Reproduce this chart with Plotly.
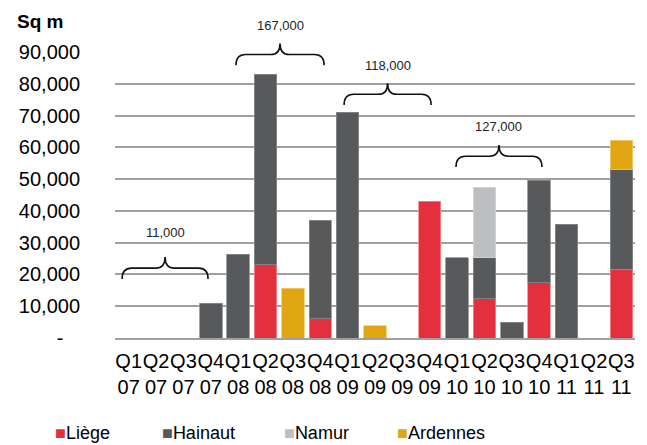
import plotly.graph_objects as go

# Quarterly take-up by province (sq m), stacked
quarters = ["Q1<br>07", "Q2<br>07", "Q3<br>07", "Q4<br>07",
            "Q1<br>08", "Q2<br>08", "Q3<br>08", "Q4<br>08",
            "Q1<br>09", "Q2<br>09", "Q3<br>09", "Q4<br>09",
            "Q1<br>10", "Q2<br>10", "Q3<br>10", "Q4<br>10",
            "Q1<br>11", "Q2<br>11", "Q3<br>11"]

liege =    [None, None, None, None, None, 23000, None, 6000, None, None, None, 43000,
            None, 12300, None, 17400, None, None, 21700]
hainaut =  [None, None, None, 11000, 26300, 60000, None, 31000, 71000, None, None, None,
            25200, 12900, 5000, 32200, 35800, None, 31400]
namur =    [None, None, None, None, None, None, None, None, None, None, None, None,
            None, 22300, None, None, None, None, None]
ardennes = [None, None, None, None, None, None, 15600, None, None, 3800, None, None,
            None, None, None, None, None, None, 9100]

series_names = ["Liège", "Hainaut", "Namur", "Ardennes"]
series_colors = ["#E4303E", "#58595B", "#BDBEC0", "#E1A712"]
series_edges = ["#F08A92", "#8A8B8D", "#D6D7D9", "#F0CC70"]

# Yearly totals shown above curly braces (category span, brace foot level, label level)
brace_text = ["11,000", "167,000", "118,000", "127,000"]
brace_start = [-0.24, 3.92, 7.87, 11.96]
brace_end = [2.90, 7.14, 11.05, 15.10]
brace_foot = [18600, 85800, 73300, 53800]
brace_label_y = [33300, 98400, 85800, 66400]

y_max = 90000
y_ticks = [0, 10000, 20000, 30000, 40000, 50000, 60000, 70000, 80000, 90000]
y_ticktext = ["-\u00a0\u00a0\u00a0"] + [f"{v:,}" for v in y_ticks[1:]]

FONT = "Liberation Sans, Arial, sans-serif"
n_cat = len(quarters)

fig = go.Figure()
for name, vals, col, edge in zip(series_names, [liege, hainaut, namur, ardennes],
                                 series_colors, series_edges):
    fig.add_trace(go.Bar(
        x=list(range(n_cat)), y=vals, name=name, showlegend=False,
        marker=dict(color=col, line=dict(color=edge, width=0.8)),
    ))


def fx(idx):
    return (idx + 0.5) / n_cat


def fy(v):
    return v / y_max


shapes = []
annotations = []
r = 0.34  # curl radius, in category units
for txt, a, b, foot, ly in zip(brace_text, brace_start, brace_end, brace_foot, brace_label_y):
    mid = foot + 3400
    tip = foot + 6900
    c = (a + b) / 2
    path = (f"M {fx(a)},{fy(foot)} "
            f"Q {fx(a)},{fy(mid)} {fx(a + r)},{fy(mid)} "
            f"L {fx(c - r)},{fy(mid)} "
            f"Q {fx(c)},{fy(mid)} {fx(c)},{fy(tip)} "
            f"Q {fx(c)},{fy(mid)} {fx(c + r)},{fy(mid)} "
            f"L {fx(b - r)},{fy(mid)} "
            f"Q {fx(b)},{fy(mid)} {fx(b)},{fy(foot)}")
    shapes.append(dict(type="path", xref="paper", yref="paper", path=path,
                       line=dict(color="#111111", width=1.6)))
    annotations.append(dict(x=c, y=fy(ly), xref="x", yref="paper", text=txt, showarrow=False,
                            font=dict(family=FONT, size=13, color="#222222"),
                            xanchor="center", yanchor="middle"))

annotations.append(dict(x=-0.192, y=1.105, xref="paper", yref="paper", text="<b>Sq m</b>",
                        showarrow=False, xanchor="left", yanchor="middle",
                        font=dict(family=FONT, size=19, color="#000000")))

# Legend row under the axis: coloured square followed by the province name
legend_x = [-0.119, 0.0865, 0.321, 0.538]
for name, col, lx in zip(series_names, series_colors, legend_x):
    annotations.append(dict(
        x=lx, y=-0.332, xref="paper", yref="paper", showarrow=False,
        xanchor="left", yanchor="middle",
        text=f"<span style='color:{col}'>\u25A0</span>{name}",
        font=dict(family=FONT, size=18, color="#000000"),
    ))

fig.update_layout(
    width=647, height=445,
    margin=dict(l=115, r=12, t=52, b=107),
    paper_bgcolor="white", plot_bgcolor="white",
    barmode="stack", bargap=0.18,
    font=dict(family=FONT, size=20, color="#000000"),
    shapes=shapes, annotations=annotations,
    showlegend=False,
)
fig.update_xaxes(
    tickmode="array", tickvals=list(range(n_cat)), ticktext=quarters,
    range=[-0.5, n_cat - 0.5], showgrid=False, automargin=False,
    showline=True, linecolor="#A0A0A0", linewidth=2,
    ticks="outside", ticklen=4, tickcolor="rgba(0,0,0,0)",
    tickfont=dict(family=FONT, size=20, color="#000000"), tickangle=0,
)
fig.update_yaxes(
    range=[0, y_max], tickmode="array", tickvals=y_ticks, ticktext=y_ticktext,
    showgrid=True, gridcolor="#A0A0A0", gridwidth=1.6, zeroline=False, automargin=False,
    showline=False, ticks="outside", ticklen=30, tickcolor="rgba(0,0,0,0)",
    tickfont=dict(family=FONT, size=20, color="#000000"),
)

fig.write_html("out.html")
